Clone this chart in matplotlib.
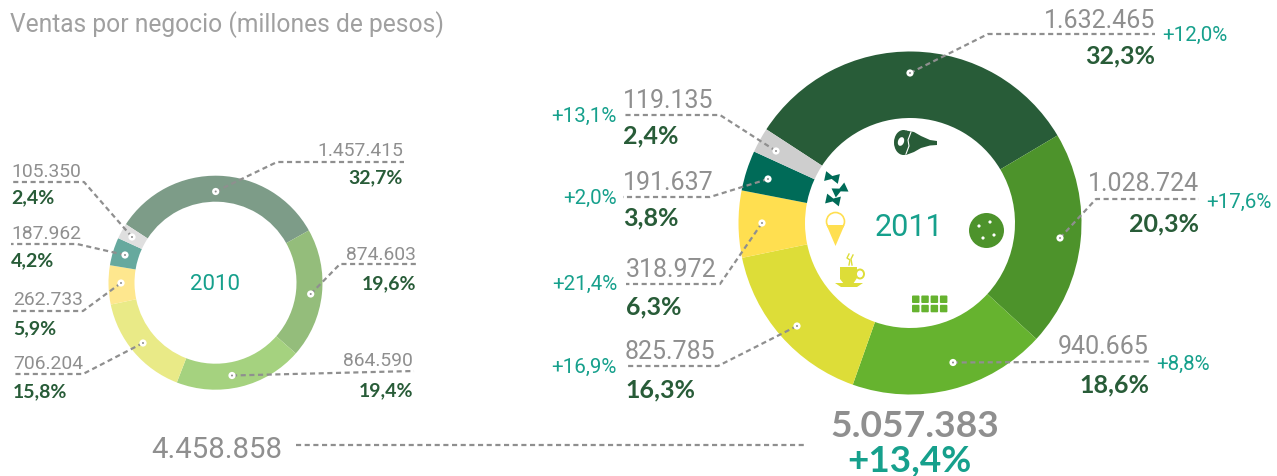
import matplotlib
matplotlib.use("Agg")
import matplotlib.pyplot as plt
from matplotlib.patches import Circle, Ellipse, Polygon, FancyBboxPatch

plt.rcParams['font.family'] = ['Roboto', 'DejaVu Sans']

values_2010 = [1457415, 874603, 864590, 706204, 262733, 187962, 105350]
values_2011 = [1632465, 1028724, 940665, 825785, 318972, 191637, 119135]
labels_2010 = ["1.457.415", "874.603", "864.590", "706.204", "262.733", "187.962", "105.350"]
labels_2011 = ["1.632.465", "1.028.724", "940.665", "825.785", "318.972", "191.637", "119.135"]
share_2010 = ["32,7%", "19,6%", "19,4%", "15,8%", "5,9%", "4,2%", "2,4%"]
share_2011 = ["32,3%", "20,3%", "18,6%", "16,3%", "6,3%", "3,8%", "2,4%"]
growth_2011 = ["+12,0%", "+17,6%", "+8,8%", "+16,9%", "+21,4%", "+2,0%", "+13,1%"]
colors_2010 = ["#7d9c88", "#94bd7b", "#a5d27f", "#e9ea87", "#fee78e", "#66a99e", "#dfdfdf"]
colors_2011 = ["#285c38", "#4d932b", "#66b32f", "#dddd38", "#ffdf50", "#006b58", "#cecece"]

GREY = "#8f8f8f"
DARK = "#285c38"
TEAL = "#16a08c"
BOLD = ['Lato', 'DejaVu Sans']

fig = plt.figure(figsize=(12.77, 4.77), dpi=100)
ax = fig.add_axes([0, 0, 1, 1])

def donut(vals, cols, cx, cy, r_out, r_in):
    ax.pie(vals, colors=cols, center=(cx, cy), radius=r_out, startangle=-146.9,
           counterclock=True, frame=False, wedgeprops=dict(width=r_out - r_in, linewidth=0))

donut(values_2010, colors_2010, 215.5, 283.7, 107, 81)
donut(values_2011, colors_2011, 910, 224, 171.5, 105)
ax.set_xlim(0, 1277)
ax.set_ylim(477, 0)
ax.set_aspect('equal')
ax.axis('off')

def leader(pts):
    xs, ys = zip(*pts)
    ax.plot(xs, ys, color=GREY, lw=1.6, dashes=(2.3, 1.6), zorder=3, dash_capstyle='butt')
    ax.add_patch(Circle(pts[0], 3.6, fc='white', ec='none', zorder=4))
    ax.add_patch(Circle(pts[0], 1.0, fc=GREY, ec='none', zorder=5))

# leader lines + labels, 2010
lines_2010 = [[(215.7, 192.5), (277, 163), (404, 163)], [(310.7, 295), (340, 265), (417, 265)],
              [(232, 376.5), (414, 372)], [(143, 344), (83, 375), (13, 375)],
              [(121, 284), (83, 312), (13, 312)], [(125, 256), (77, 245), (11, 245)],
              [(132, 238), (84, 183), (11, 183)]]
ypos_2010 = [(151, 178), (255, 284), (361, 391), (364, 392), (300, 329), (234, 261), (172, 198)]
for i, pts in enumerate(lines_2010):
    leader(pts)
    right = i < 3
    x = pts[-1][0] - 1 if right else pts[-1][0]
    ha = 'right' if right else 'left'
    ax.text(x, ypos_2010[i][0], labels_2010[i], ha=ha, va='center', color=GREY, fontsize=13.9)
    ax.text(x, ypos_2010[i][1], share_2010[i], ha=ha, va='center', color=DARK, fontsize=14, fontweight='bold', family=BOLD)

# leader lines + labels, 2011
lines_2011 = [[(910, 74), (988, 35), (1155, 35)], [(1060, 239), (1096, 200), (1199, 200)],
              [(953, 363.5), (1149, 362.5)], [(797, 327), (718, 367), (625, 367)],
              [(762, 224), (720, 285), (626, 285)], [(768, 180), (710, 198), (623, 198)],
              [(776, 152), (720, 116), (623, 116)]]
ypos_2011 = [(21, 56, 35), (184, 224, 202), (347, 385, 364), (352, 390, 367),
             (270, 307, 284), (183, 218, 198), (101, 136, 116)]
for i, pts in enumerate(lines_2011):
    leader(pts)
    right = i < 3
    x = pts[-1][0]
    ha = 'right' if right else 'left'
    ax.text(x, ypos_2011[i][0], labels_2011[i], ha=ha, va='center', color=GREY, fontsize=18)
    ax.text(x, ypos_2011[i][1], share_2011[i], ha=ha, va='center', color=DARK, fontsize=18, fontweight='bold', family=BOLD)
    gx = x + 7 if right else 617
    ax.text(gx, ypos_2011[i][2], growth_2011[i], ha='left' if right else 'right', va='center',
            color=TEAL, fontsize=14.8)

ax.text(10, 25, "Ventas por negocio (millones de pesos)", ha='left', va='center', color="#a0a0a0", fontsize=17.7)
ax.text(215, 285, "2010", ha='center', va='center', color=TEAL, fontsize=16)
ax.text(909, 228, "2011", ha='center', va='center', color=TEAL, fontsize=22)

# totals
ax.text(151, 450, "4.458.858", ha='left', va='center', color=GREY, fontsize=21.2)
ax.plot([296, 806], [446, 446], color=GREY, lw=1.6, dashes=(2.3, 1.6))
ax.text(915, 427, "5.057.383", ha='center', va='center', color=GREY, fontsize=26.8, fontweight='bold', family=BOLD)
ax.text(909, 461.5, "+13,4%", ha='center', va='center', color=TEAL, fontsize=26.5, fontweight='bold', family=BOLD)

# icons
# ham
ax.add_patch(Ellipse((903.5, 143.5), 19, 25, fc=colors_2011[0], ec='none', zorder=3))
ax.add_patch(Polygon([(906, 131.5), (914, 133), (921, 137), (930, 141), (937, 142), (937, 146), (930, 146.5),
                      (921, 149), (914, 153), (906, 156)], fc=colors_2011[0], ec='none', zorder=3))
ax.add_patch(Ellipse((901, 142.5), 6, 9, angle=20, fc='white', ec='none', zorder=4))
ax.plot([911, 908, 909, 906], [133, 141, 147, 155], color='white', lw=0.8, zorder=4)
# bow ties
for bx, by, ang in [(832, 178.5, 12), (840, 191, -25), (833, 201, 12)]:
    bow = matplotlib.transforms.Affine2D().rotate_deg(ang).translate(bx, by) + ax.transData
    ax.add_patch(Polygon([(-7, -5), (0, -1.5), (7, -5), (7, 5), (0, 1.5), (-7, 5)],
                         fc=colors_2011[5], ec='none', transform=bow, zorder=3))
# ice cream
ax.add_patch(Circle((835.5, 222.5), 9, fc='white', ec=colors_2011[4], lw=1.2))
ax.add_patch(Polygon([(826.5, 226), (844.5, 226), (835.5, 247)], fc=colors_2011[4], ec='none'))
# coffee
ax.add_patch(Polygon([(840, 268), (857, 268), (857, 279), (853, 285), (844, 285), (840, 280)],
                     fc=colors_2011[3], ec='none'))
ax.add_patch(Ellipse((860, 275), 8, 9, fc='none', ec=colors_2011[3], lw=1.4))
ax.add_patch(Polygon([(835, 284), (863, 284), (857, 288), (841, 288)], fc=colors_2011[3], ec='none'))
ax.plot([849, 847, 850, 849], [255, 259, 261, 266], color=colors_2011[3], lw=1)
ax.plot([853, 851, 852], [256, 260, 266], color=colors_2011[3], lw=1)
# cookie
ax.add_patch(Circle((986.5, 231.5), 17.5, fc=colors_2011[1], ec='none'))
for dx, dy in [(979, 227), (990, 223), (983, 239), (994, 236)]:
    ax.add_patch(Circle((dx, dy), 1.6, fc='white', ec='none'))
# chocolate bar
for col in range(4):
    for row in range(2):
        ax.add_patch(FancyBboxPatch((912 + col * 9.3, 296.5 + row * 9.3), 7.5, 7.5,
                                    boxstyle="round,pad=0,rounding_size=1", fc=colors_2011[2], ec='none'))

fig.savefig("out.png", dpi=100)
